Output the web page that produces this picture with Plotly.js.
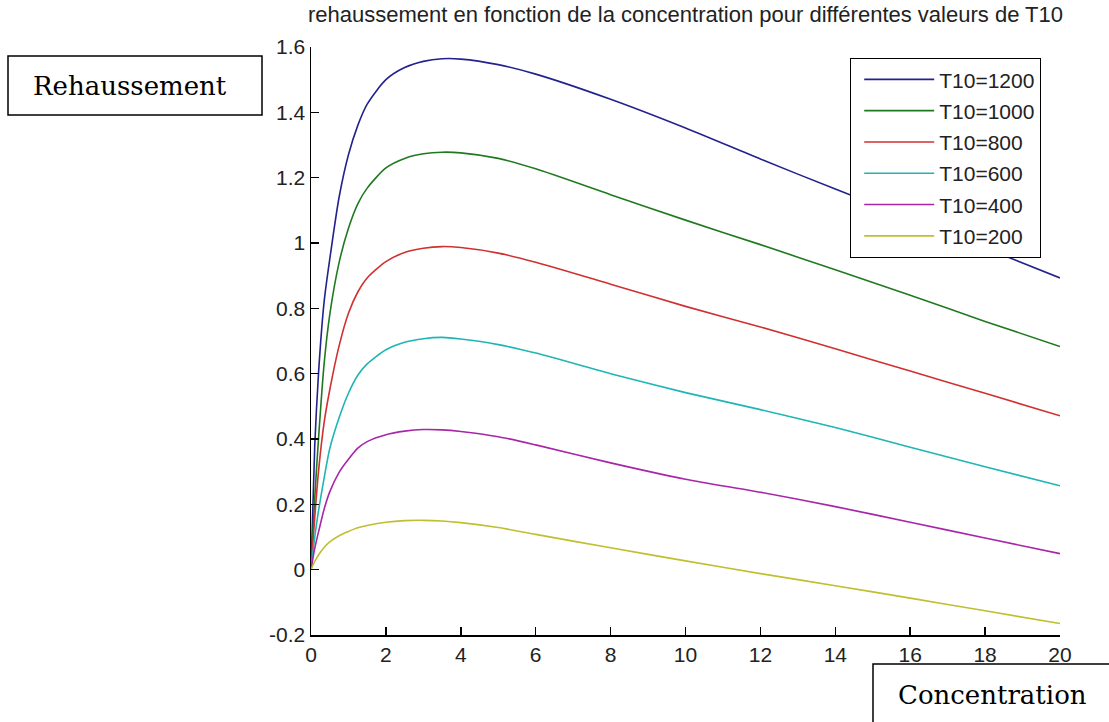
<!DOCTYPE html>
<html>
<head>
<meta charset="utf-8">
<script src="https://cdn.plot.ly/plotly-3.0.1.min.js"></script>
<style>html,body{margin:0;padding:0;background:#fff;}#chart{width:1109px;height:722px;}</style>
</head>
<body>
<div id="chart"></div>
<script>
// Concentration values (x)
const concentration = [0, 0.1, 0.2, 0.35, 0.5, 0.75, 1, 1.25, 1.5, 2, 2.5, 3, 3.5, 4, 5, 6, 8, 10, 12, 14, 16, 18, 20];

// Rehaussement for each T10
const t10_1200 = [0, 0.38, 0.60, 0.82, 0.95, 1.14, 1.27, 1.36, 1.425, 1.50, 1.537, 1.556, 1.564, 1.563, 1.546, 1.517, 1.44, 1.352, 1.257, 1.165, 1.075, 0.985, 0.893];
const t10_1000 = [0, 0.22, 0.40, 0.63, 0.78, 0.94, 1.045, 1.12, 1.168, 1.23, 1.259, 1.273, 1.278, 1.276, 1.259, 1.227, 1.148, 1.07, 0.995, 0.918, 0.84, 0.76, 0.683];
const t10_800  = [0, 0.16, 0.30, 0.45, 0.55, 0.685, 0.785, 0.85, 0.893, 0.943, 0.971, 0.984, 0.989, 0.986, 0.969, 0.941, 0.874, 0.806, 0.743, 0.676, 0.608, 0.54, 0.471];
const t10_600  = [0, 0.10, 0.18, 0.28, 0.37, 0.465, 0.54, 0.595, 0.63, 0.673, 0.696, 0.707, 0.711, 0.706, 0.689, 0.663, 0.60, 0.542, 0.49, 0.435, 0.375, 0.315, 0.257];
const t10_400  = [0, 0.065, 0.115, 0.185, 0.238, 0.298, 0.338, 0.372, 0.392, 0.413, 0.424, 0.429, 0.428, 0.423, 0.407, 0.382, 0.327, 0.277, 0.237, 0.193, 0.145, 0.097, 0.049];
const t10_200  = [0, 0.025, 0.045, 0.068, 0.085, 0.104, 0.117, 0.128, 0.135, 0.145, 0.15, 0.151, 0.149, 0.144, 0.129, 0.108, 0.067, 0.027, -0.012, -0.049, -0.087, -0.126, -0.165];

const seriesNames = ["T10=1200", "T10=1000", "T10=800", "T10=600", "T10=400", "T10=200"];
const seriesValues = [t10_1200, t10_1000, t10_800, t10_600, t10_400, t10_200];
const seriesColors = ["#22228f", "#1f7a1f", "#d03030", "#1fb5b5", "#a826a8", "#bfbf30"];

// Tick labels
const xTickVals = [0, 2, 4, 6, 8, 10, 12, 14, 16, 18, 20];
const xTickText = ["0", "2", "4", "6", "8", "10", "12", "14", "16", "18", "20"];
const yTickVals = [-0.2, 0, 0.2, 0.4, 0.6, 0.8, 1, 1.2, 1.4, 1.6];
const yTickText = ["-0.2", "0", "0.2", "0.4", "0.6", "0.8", "1", "1.2", "1.4", "1.6"];

const titleText = "rehaussement en fonction de la concentration pour différentes valeurs de T10";
const yLabelText = "Rehaussement";
const xLabelText = "Concentration";

const sansFont = "'Liberation Sans', Arial, sans-serif";
const serifFont = "'DejaVu Serif', 'Liberation Serif', serif";

const traces = seriesNames.map((name, i) => ({
  x: concentration,
  y: seriesValues[i],
  name: name,
  legendgroup: name,
  type: "scatter",
  mode: "lines",
  line: {color: seriesColors[i], width: 1.6, shape: "spline", smoothing: 0.7}
}));

const layout = {
  width: 1109,
  height: 722,
  margin: {l: 311, r: 49, t: 47, b: 87, pad: 0},
  paper_bgcolor: "#ffffff",
  plot_bgcolor: "#ffffff",
  showlegend: true,
  title: {
    text: titleText,
    font: {family: sansFont, size: 22, color: "#222"},
    xref: "paper", x: 0.5, xanchor: "center",
    yref: "container", y: 1 - 14/722, yanchor: "middle"
  },
  xaxis: {
    range: [0, 20],
    tickmode: "array", tickvals: xTickVals, ticktext: xTickText,
    ticks: "inside", ticklen: 8, tickwidth: 1.5, tickcolor: "#000",
    showline: true, linecolor: "#000", linewidth: 1.5,
    showgrid: false, zeroline: false, mirror: false,
    tickfont: {family: sansFont, size: 21, color: "#222"}
  },
  yaxis: {
    range: [-0.2, 1.6],
    tickmode: "array", tickvals: yTickVals, ticktext: yTickText,
    ticks: "inside", ticklen: 8, tickwidth: 1.5, tickcolor: "#000",
    showline: true, linecolor: "#000", linewidth: 1.5,
    showgrid: false, zeroline: false, mirror: false,
    tickfont: {family: sansFont, size: 21, color: "#222"}
  },
  legend: {
    x: (850 - 311) / 749, y: (635 - 58) / 588,
    xanchor: "left", yanchor: "top",
    bgcolor: "#ffffff", bordercolor: "#000", borderwidth: 1.2,
    font: {family: sansFont, size: 21, color: "#222"},
    itemwidth: 70,
    indentation: 8,
    tracegroupgap: 1
  },
  shapes: [
    {type: "rect", xref: "paper", yref: "paper",
     x0: (8 - 311) / 749, x1: (262 - 311) / 749, y0: (635 - 115) / 588, y1: (635 - 56) / 588,
     line: {color: "#000", width: 1.5}, fillcolor: "rgba(0,0,0,0)"},
    {type: "rect", xref: "paper", yref: "paper",
     x0: (873 - 311) / 749, x1: (1115 - 311) / 749, y0: (635 - 730) / 588, y1: (635 - 664) / 588,
     line: {color: "#000", width: 1.5}, fillcolor: "rgba(0,0,0,0)"}
  ],
  annotations: [
    {text: yLabelText, xref: "paper", yref: "paper",
     x: (130 - 311) / 749, y: (635 - 86) / 588, xanchor: "center", yanchor: "middle",
     showarrow: false, font: {family: serifFont, size: 26, color: "#000"}},
    {text: xLabelText, xref: "paper", yref: "paper",
     x: (992 - 311) / 749, y: (635 - 695) / 588, xanchor: "center", yanchor: "middle",
     showarrow: false, font: {family: serifFont, size: 26, color: "#000"}}
  ]
};

Plotly.newPlot("chart", traces, layout, {displayModeBar: false, staticPlot: true});
</script>
</body>
</html>
